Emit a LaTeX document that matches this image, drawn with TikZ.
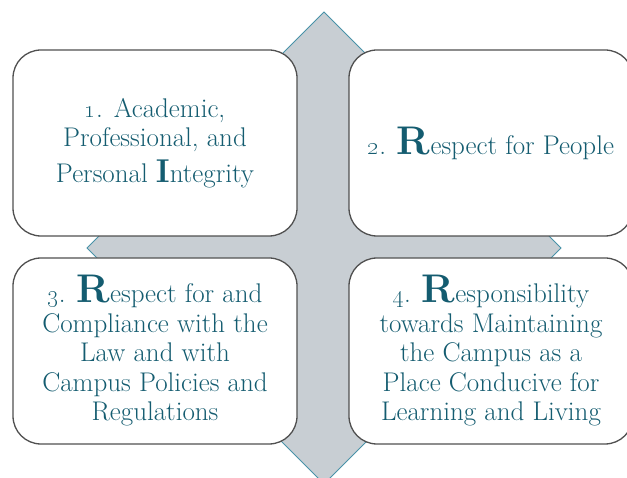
\documentclass[tikz,border=0pt]{standalone}
\usepackage{xcolor}
\definecolor{ink}{RGB}{20,92,112}
\definecolor{crossfill}{RGB}{200,206,211}
\definecolor{crossline}{RGB}{72,146,168}
\definecolor{rim}{RGB}{80,80,80}
\usepackage{tikz}
\usetikzlibrary{positioning}
\tikzstyle{pillar} = [
    rectangle, rounded corners=28pt,
    minimum width=284pt,
    minimum height=186pt,
    draw=rim, fill=white,
    line width=1.3pt,
    text=ink, align=center,
    font=\fontsize{27}{29.5}\selectfont,
]
\tikzstyle{cross} = [
    fill=crossfill,
    draw=crossline,
    line width=1pt,
    line join=miter,
]
\newcommand{\firstletter}[2][40]{{\fontsize{#1}{#1}\selectfont\bfseries #2}}

\begin{document}
\begin{tikzpicture}[x=1pt, y=-1pt]
    \useasboundingbox (0,0) rectangle (627,478);

    % four-way arrow behind the boxes
    \draw [cross] (324,12) -- (384,72) -- (364,72) -- (364,208)
        -- (501,208) -- (501,188) -- (561,248) -- (501,308) -- (501,288)
        -- (364,288) -- (364,424) -- (384,424) -- (324,484) -- (264,424)
        -- (284,424) -- (284,288) -- (147,288) -- (147,308) -- (87,248)
        -- (147,188) -- (147,208) -- (284,208) -- (284,72) -- (264,72)
        -- cycle;

    % boxes
    \node (integrity) at (155,143) [pillar]
        {\oldstylenums{1}. Academic,\\ Professional, and\\[6pt]
         Personal \firstletter[33]{I}ntegrity};
    \node (people) at (491,143) [pillar]
        {\oldstylenums{2}. \firstletter{R}espect for People};
    \node (law) at (155,351) [pillar]
        {\oldstylenums{3}. \firstletter{R}espect for and\\
         Compliance with the\\ Law and with\\
         Campus Policies and\\ Regulations};
    \node (campus) at (491,351) [pillar]
        {\oldstylenums{4}. \firstletter{R}esponsibility\\
         towards Maintaining\\ the Campus as a\\
         Place Conducive for\\ Learning and Living};
\end{tikzpicture}
\end{document}
